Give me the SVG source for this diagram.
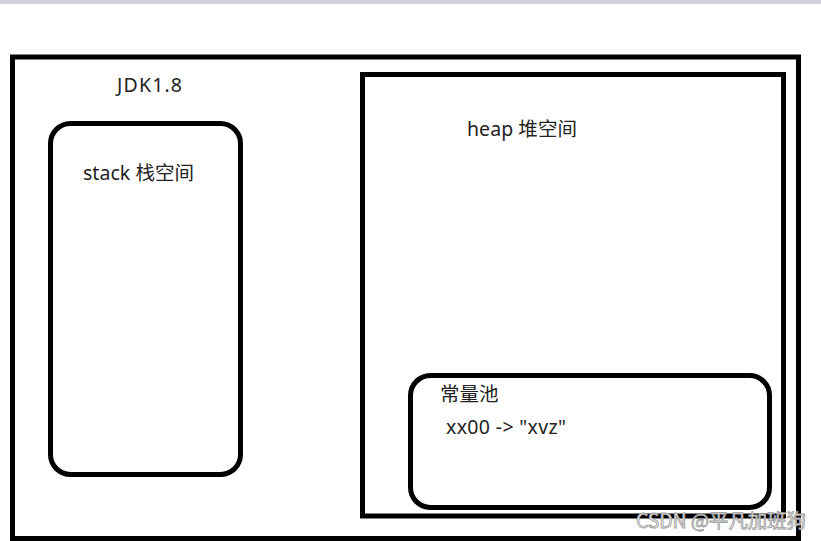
<svg xmlns="http://www.w3.org/2000/svg" width="821" height="541" viewBox="0 0 821 541">
<style>
.box{fill:none;stroke:#000;stroke-width:5}
.t{font-family:"Noto Sans","Noto Sans CJK SC",sans-serif;font-size:19.5px;fill:#222}
.wm{font-family:"Noto Sans CJK SC",sans-serif;font-size:19.5px;fill:#f4f4f4;stroke:#999;stroke-width:0.8}
</style>
<rect x="0" y="0" width="821" height="541" fill="#fff"/>
<rect x="0" y="0" width="821" height="4" fill="#d2d2dc"/>
<g id="jdk">
<rect class="box" x="12.5" y="57" width="786" height="481.5"/>
<text class="t" x="117" y="92" textLength="65">JDK1.8</text>
</g>
<g id="stack">
<rect class="box" x="50.5" y="123.5" width="190" height="351" rx="20"/>
<text class="t" x="83" y="180" textLength="111">stack 栈空间</text>
</g>
<g id="heap">
<rect class="box" x="362.5" y="74.5" width="421" height="441.5"/>
<text class="t" x="467" y="136" textLength="110">heap 堆空间</text>
</g>
<g id="pool">
<rect class="box" x="410.5" y="375.5" width="359" height="132" rx="20"/>
<text class="t" x="440" y="401">常量池</text>
<text class="t" x="446" y="434" textLength="120">xx00 -&gt; "xvz"</text>
</g>
<g id="connectors"></g>
<text class="wm" x="636" y="528" textLength="170">CSDN @平凡加班狗</text>
</svg>
